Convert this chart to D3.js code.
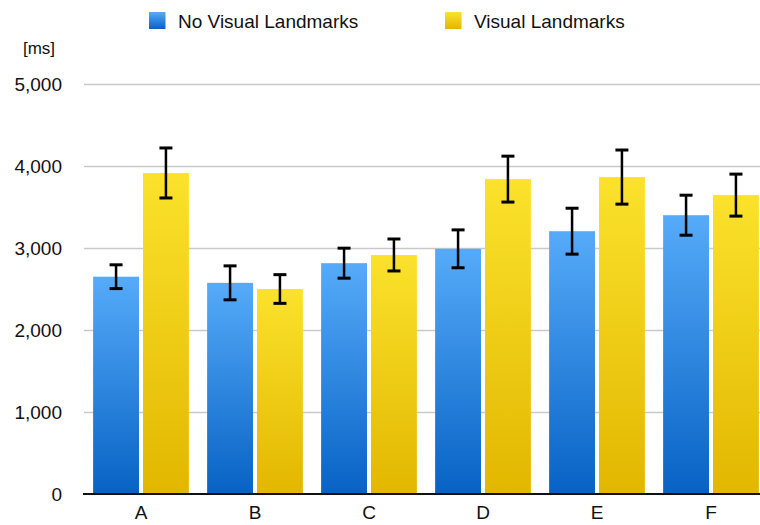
<!DOCTYPE html>
<html><head><meta charset="utf-8">
<script src="https://cdn.jsdelivr.net/npm/d3@7"></script>
<style>body{margin:0;background:#fff}svg{display:block}text{font-family:"Liberation Sans",Arial,Helvetica,sans-serif;fill:#111}</style>
</head><body><svg id="c" width="760" height="525"></svg>
<script>
const categories = ["A","B","C","D","E","F"];
const seriesNames = ["No Visual Landmarks","Visual Landmarks"];
const noLandmarks = [2650, 2575, 2815, 2990, 3205, 3400];
const noLandmarksErr = [145, 207, 183, 231, 280, 244];
const landmarks = [3915, 2500, 2915, 3840, 3865, 3645];
const landmarksErr = [305, 175, 195, 280, 330, 256];
const yTicks = [0,1000,2000,3000,4000,5000];

(function(){
const svg = d3.select("#c");
const pLeft = 84, pRight = 768, pTop = 84, pBottom = 494;
const x0 = d3.scaleBand().domain(categories).range([pLeft,pRight]).paddingInner(0.16).paddingOuter(0.08);
const x1 = d3.scaleBand().domain(seriesNames).range([0,x0.bandwidth()]).paddingInner(0.08);
const y = d3.scaleLinear().domain([0,5000]).range([pBottom,pTop]);

const defs = svg.append("defs");
const grads = [["gBlue","#56abf9","#0762c4"],["gYel","#fbe22c","#e2b700"]];
grads.forEach(([id,c1,c2])=>{
  const g = defs.append("linearGradient").attr("id",id).attr("x1",0).attr("y1",0).attr("x2",0).attr("y2",1);
  g.append("stop").attr("offset","0%").attr("stop-color",c1);
  g.append("stop").attr("offset","100%").attr("stop-color",c2);
});
const fills = {"No Visual Landmarks":"url(#gBlue)","Visual Landmarks":"url(#gYel)"};

const yAxis = d3.axisLeft(y).tickValues(yTicks).tickFormat(d3.format(",")).tickSize(-(760-pLeft)).tickPadding(22);
const ga = svg.append("g").attr("transform",`translate(${pLeft},0)`).call(yAxis);
ga.select(".domain").remove();
ga.selectAll(".tick line").attr("stroke","#c9c9c9").attr("stroke-width",1.5);
ga.selectAll(".tick text").attr("font-size",19).attr("fill","#111");
ga.selectAll(".tick").filter(d=>d===0).select("line").attr("stroke","none");

svg.append("text").attr("x",39).attr("y",54).attr("text-anchor","middle").attr("font-size",17).text("[ms]");

const data = categories.map((c,i)=>({cat:c, vals:[
  {s:seriesNames[0], v:noLandmarks[i], e:noLandmarksErr[i]},
  {s:seriesNames[1], v:landmarks[i], e:landmarksErr[i]}]}));

const groups = svg.append("g").selectAll("g").data(data).join("g")
  .attr("transform",d=>`translate(${x0(d.cat)},0)`);
groups.selectAll("rect").data(d=>d.vals).join("rect")
  .attr("x",d=>x1(d.s)).attr("width",x1.bandwidth())
  .attr("y",d=>y(d.v)).attr("height",d=>y(0)-y(d.v))
  .attr("fill",d=>fills[d.s]);

const eb = groups.selectAll("g.err").data(d=>d.vals).join("g").attr("class","err")
  .attr("transform",d=>`translate(${x1(d.s)+x1.bandwidth()/2},0)`);
eb.append("line").attr("x1",0).attr("x2",0).attr("y1",d=>y(d.v+d.e)).attr("y2",d=>y(d.v-d.e))
  .attr("stroke","#000").attr("stroke-width",2.5);
eb.append("line").attr("x1",-6.5).attr("x2",6.5).attr("y1",d=>y(d.v+d.e)).attr("y2",d=>y(d.v+d.e))
  .attr("stroke","#000").attr("stroke-width",3);
eb.append("line").attr("x1",-6.5).attr("x2",6.5).attr("y1",d=>y(d.v-d.e)).attr("y2",d=>y(d.v-d.e))
  .attr("stroke","#000").attr("stroke-width",3);

const xa = svg.append("g").attr("transform",`translate(0,${pBottom})`).call(d3.axisBottom(x0).tickSize(0).tickPadding(12));
xa.select(".domain").attr("stroke","#111").attr("stroke-width",2).attr("d",`M${pLeft-1},0H760`);
xa.selectAll(".tick text").attr("font-size",19).attr("fill","#111");

const leg = [[149,seriesNames[0],"url(#gBlue)"],[445,seriesNames[1],"url(#gYel)"]];
leg.forEach(([lx,name,f])=>{
  svg.append("rect").attr("x",lx).attr("y",12).attr("width",16.5).attr("height",17).attr("fill",f);
  svg.append("text").attr("x",lx+29).attr("y",28).attr("font-size",19).text(name);
});
})();
</script></body></html>
